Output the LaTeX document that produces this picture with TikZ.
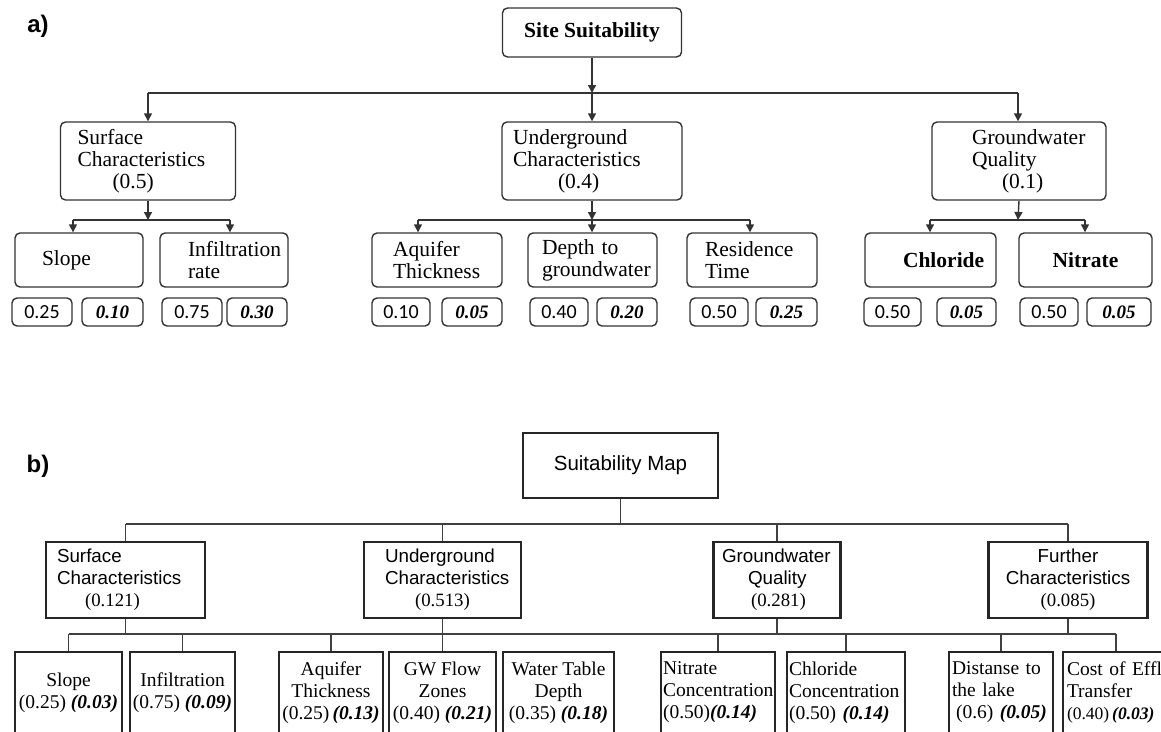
\documentclass[tikz,border=0pt]{standalone}
\usepackage{fontspec}
\setmainfont{Liberation Serif}
\newfontfamily\arialf{Liberation Sans}
\newfontfamily\carlf{Carlito}
\usetikzlibrary{arrows.meta}
\newcommand\bival[1]{\textbf{\textit{#1}}}
\begin{document}
\begin{tikzpicture}[x=1pt,y=-1pt,
  abox/.style={draw=black!80, line width=1.4pt, rounded corners=5pt, inner sep=0pt,
    font=\fontsize{21.5}{22}\selectfont},
  amid/.style={abox, minimum height=78pt, align=left},
  aleaf/.style={abox, minimum height=54pt, align=left},
  anum/.style={abox, minimum height=28pt, font=\carlf\fontsize{20}{22}\selectfont},
  anumb/.style={abox, minimum height=28pt, font=\fontsize{19}{22}\selectfont\bfseries\itshape},
  aline/.style={draw=black!80, line width=1.4pt},
  aarr/.style={aline, -{Triangle[width=8pt,length=8pt]}},
  bbox/.style={draw=black!85, line width=2.2pt, inner sep=0pt},
  bline/.style={draw=black!75, line width=1.8pt},
  bmid/.style={bbox, minimum height=76pt, font=\arialf\fontsize{18.8}{22}\selectfont},
  bleaf/.style={bbox, minimum height=81pt, font=\fontsize{19.5}{22}\selectfont},
  lbl/.style={font=\arialf\bfseries\fontsize{24}{26}\selectfont, inner sep=0pt}
]
\useasboundingbox (0,0) rectangle (1161,731);
\clip (0,0) rectangle (1161,731);

% ---------------- a) ----------------
\node[lbl] (la) at (38,26) {a)};
\node[abox, minimum width=179pt, minimum height=49pt] (site) at (592,32.5) {\textbf{Site Suitability}};

\node[amid, minimum width=175pt, text width=141pt] (surf) at (148,161)
  {Surface\\Characteristics\\\hspace*{35pt}(0.5)};
\node[amid, minimum width=180pt, text width=158pt] (ug) at (592,161)
  {Underground\\Characteristics\\\hspace*{45pt}(0.4)};
\node[amid, minimum width=174pt, text width=94pt] (gw) at (1019,161)
  {Groundwater\\Quality\\\hspace*{30pt}(0.1)};

\node[aleaf, minimum width=128pt, text width=74pt] (slope) at (79,260) {Slope};
\node[aleaf, minimum width=128pt, text width=72pt] (infil) at (224,260) {Infiltration\\rate};
\node[aleaf, minimum width=130pt, text width=88pt] (aq) at (437,260) {Aquifer\\Thickness};
\node[aleaf, minimum width=129pt, text width=101pt] (depth) at (592.5,260) {Depth to\\groundwater};
\node[aleaf, minimum width=130pt, text width=94pt] (res) at (752,260) {Residence\\Time};
\node[aleaf, minimum width=131pt, text width=55pt] (chl) at (930.5,260) {\textbf{Chloride}};
\node[abox, minimum width=133pt, minimum height=54pt] (nit) at (1085.5,260) {\textbf{Nitrate}};

% numbers
\node[anum,  minimum width=60pt] (n1)  at (42,312)   {0.25};
\node[anumb, minimum width=61pt] (n2)  at (112.5,312) {0.10};
\node[anum,  minimum width=60pt] (n3)  at (192,312)  {0.75};
\node[anumb, minimum width=60pt] (n4)  at (257,312)  {0.30};
\node[anum,  minimum width=58pt] (n5)  at (401,312)  {0.10};
\node[anumb, minimum width=60pt] (n6)  at (472,312)  {0.05};
\node[anum,  minimum width=58pt] (n7)  at (559,312)  {0.40};
\node[anumb, minimum width=60pt] (n8)  at (627,312)  {0.20};
\node[anum,  minimum width=58pt] (n9)  at (719,312)  {0.50};
\node[anumb, minimum width=61pt] (n10) at (786.5,312) {0.25};
\node[anum,  minimum width=57pt] (n11) at (892.5,312) {0.50};
\node[anumb, minimum width=59pt] (n12) at (966.5,312) {0.05};
\node[anum,  minimum width=58pt] (n13) at (1049,312) {0.50};
\node[anumb, minimum width=64pt] (n14) at (1119,312) {0.05};

% connectors a)
\coordinate (j0) at (592,93);
\coordinate (jl) at (148,93);
\coordinate (jr) at (1018,93);
\draw[aline] (jl) -- (jr);
\draw[aarr] (site.south) -- (j0);
\draw[aarr] (j0) -- (ug.north);
\draw[aarr] (jl) -- (jl |- surf.north);
\draw[aarr] (jr) -- (jr |- gw.north);

\coordinate (s0) at (148,220);
\coordinate (s1) at (73,220);
\coordinate (s2) at (230,220);
\draw[aline] (s1) -- (s2);
\draw[aarr] (surf.south) -- (s0);
\draw[aarr] (s1) -- (s1 |- slope.north);
\draw[aarr] (s2) -- (s2 |- infil.north);

\coordinate (u0) at (592,220);
\coordinate (u1) at (418,220);
\coordinate (u2) at (750,220);
\draw[aline] (u1) -- (u2);
\draw[aarr] (ug.south) -- (u0);
\draw[aarr] (u1) -- (u1 |- aq.north);
\draw[aarr] (u0) -- (u0 |- depth.north);
\draw[aarr] (u2) -- (u2 |- res.north);

\coordinate (g0) at (1018,220);
\coordinate (g1) at (930,220);
\coordinate (g2) at (1085,220);
\draw[aline] (g1) -- (g2);
\draw[aarr] (gw.south) -- (g0);
\draw[aarr] (g1) -- (g1 |- chl.north);
\draw[aarr] (g2) -- (g2 |- nit.north);

% ---------------- b) ----------------
\node[lbl] (lb) at (38,466) {b)};
\node[bbox, minimum width=195pt, minimum height=65pt, font=\arialf\fontsize{20.5}{24}\selectfont] (map) at (620.5,465.5) {Suitability Map};

\node[bmid, minimum width=159pt, text width=137pt, align=left] (bsurf) at (125.5,580)
  {Surface\\Characteristics\\\hspace*{28pt}{\rmfamily (0.121)}};
\node[bmid, minimum width=157pt, text width=115pt, align=left] (bug) at (442.5,580)
  {Underground\\Characteristics\\\hspace*{30pt}{\rmfamily (0.513)}};
\node[bmid, minimum width=127pt, text width=110pt, align=left] (bgw) at (777,580)
  {Groundwater\\\hspace*{26pt}Quality\\\hspace*{29pt}{\rmfamily (0.281)}};
\node[bmid, minimum width=159pt, align=center] (bfur) at (1068,580)
  {Further\\Characteristics\\{\rmfamily (0.085)}};

\coordinate (m0) at (620.5,524);
\draw[bline] (map.south) -- (m0);
\draw[bline] (bsurf.north |- m0) -- (bfur.north |- m0);
\draw[bline] (bsurf.north) -- (bsurf.north |- m0);
\draw[bline] (bug.north) -- (bug.north |- m0);
\draw[bline] (bgw.north) -- (bgw.north |- m0);
\draw[bline] (bfur.north) -- (bfur.north |- m0);

% leaves b)
\node[bleaf, minimum width=107pt, align=center] (lslope) at (68.5,692.5)
  {Slope\\(0.25)~\bival{(0.03)}};
\node[bleaf, minimum width=105pt, align=center] (linf) at (182.5,692.5)
  {Infiltration\\(0.75)~\bival{(0.09)}};
\node[bleaf, minimum width=104pt, align=center] (laq) at (331,692.5)
  {Aquifer\\Thickness\\(0.25)\,\bival{(0.13)}};
\node[bleaf, minimum width=107pt, align=center] (lgw) at (442.5,692.5)
  {GW Flow\\Zones\\(0.40)~\bival{(0.21)}};
\node[bleaf, minimum width=111pt, align=center] (lwt) at (558.5,692.5)
  {Water Table\\Depth\\(0.35)~\bival{(0.18)}};
\node[bleaf, minimum width=114pt, text width=110pt, align=left] (lni) at (718,692.5)
  {Nitrate\\Concentration\\(0.50)\bival{(0.14)}};
\node[bleaf, minimum width=118pt, text width=114pt, align=left] (lcl) at (846,692.5)
  {Chloride\\Concentration\\(0.50)~\bival{(0.14)}};
\node[bleaf, minimum width=104pt, text width=98pt, align=left] (ldi) at (1001,692.5)
  {Distanse to\\the lake\\\hspace*{4pt}(0.6)~\bival{(0.05)}};
\node[bleaf, minimum width=106pt, text width=98pt, align=left] (lco) at (1116,692.5)
  {Cost of Effl\\Transfer\\\mbox{\fontsize{17.5}{22}\selectfont(0.40)\,\bival{(0.03)}}};

\coordinate (r) at (0,634);
\draw[bline] (bsurf.south) -- (bsurf.south |- r);
\draw[bline] (bug.south) -- (lgw.north);
\draw[bline] (bgw.south) -- (bgw.south |- r);
\draw[bline] (bfur.south) -- (bfur.south |- r);
\draw[bline] (lslope.north |- r) -- (lco.north |- r);
\draw[bline] (lslope.north) -- (lslope.north |- r);
\draw[bline] (linf.north) -- (linf.north |- r);
\draw[bline] (laq.north) -- (laq.north |- r);
\draw[bline] (lni.north) -- (lni.north |- r);
\draw[bline] (lcl.north) -- (lcl.north |- r);
\draw[bline] (ldi.north) -- (ldi.north |- r);
\draw[bline] (lco.north) -- (lco.north |- r);
\end{tikzpicture}
\end{document}
